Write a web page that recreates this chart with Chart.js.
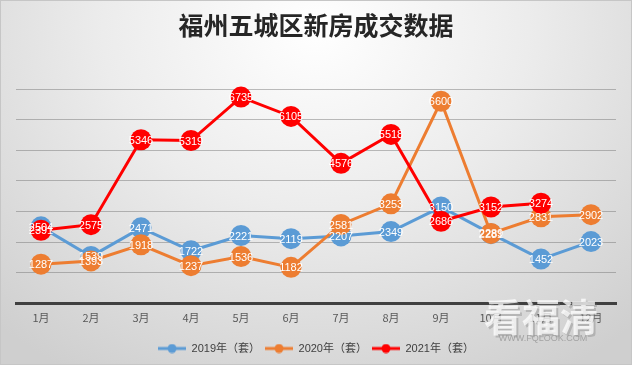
<!DOCTYPE html>
<html>
<head>
<meta charset="utf-8">
<script src="https://cdn.jsdelivr.net/npm/chart.js@4"></script>
<style>
  html, body { margin: 0; padding: 0; }
  #wrap {
    width: 632px; height: 365px; box-sizing: border-box;
    border: 1px solid #c6c6c6;
    background: radial-gradient(ellipse 75% 110% at 50% 8%, #ffffff 0%, #ececec 45%, #cfcfcf 100%);
  }
</style>
</head>
<body>
<div id="wrap"><canvas id="chartE" width="630" height="363"></canvas></div>
<script>
let months = ["1月", "2月", "3月", "4月", "5月", "6月", "7月", "8月", "9月", "10月", "11月", "12月"];

let sales2019 = [2504, 1539, 2471, 1722, 2221, 2119, 2207, 2349, 3150, 2281, 1452, 2023];
let sales2020 = [1287, 1393, 1918, 1237, 1536, 1182, 2581, 3253, 6600, 2289, 2831, 2902];
let sales2021 = [2391, 2575, 5346, 5319, 6735, 6105, 4576, 5518, 2686, 3152, 3274];

let seriesNames = ["2019年（套）", "2020年（套）", "2021年（套）"];
let seriesColors = ["#5b9bd5", "#ed7d31", "#ff0000"];

// small line + dot icon for the legend
function legendIcon(color) {
    let c = document.createElement("canvas");
    c.width = 28;
    c.height = 10;
    let g = c.getContext("2d");
    g.strokeStyle = color;
    g.lineWidth = 3;
    g.beginPath();
    g.moveTo(0, 5);
    g.lineTo(28, 5);
    g.stroke();
    g.fillStyle = color;
    g.beginPath();
    g.arc(14, 5, 4.5, 0, Math.PI * 2);
    g.fill();
    return c;
}

// white value labels on top of every point
let valueLabels = {
    id: "valueLabels",
    afterDatasetsDraw(chart) {
        let ctx = chart.ctx;
        ctx.save();
        ctx.font = "11px 'Liberation Sans'";
        ctx.fillStyle = "#ffffff";
        ctx.textAlign = "center";
        ctx.textBaseline = "middle";
        chart.data.datasets.forEach((ds, i) => {
            chart.getDatasetMeta(i).data.forEach((pt, j) => {
                ctx.fillText(ds.data[j], pt.x, pt.y + 1);
            });
        });
        ctx.restore();
    },
};

// faint site watermark, bottom right
let watermark = {
    id: "watermark",
    afterDraw(chart) {
        let ctx = chart.ctx;
        ctx.save();
        ctx.textAlign = "center";
        ctx.font = "bold 38px 'Noto Sans CJK SC'";
        ctx.fillStyle = "rgba(120,120,120,0.35)";
        ctx.fillText("看福清", 542, 318);
        ctx.fillStyle = "rgba(255,255,255,0.75)";
        ctx.fillText("看福清", 540, 316);
        ctx.font = "9px 'Liberation Sans'";
        ctx.fillStyle = "rgba(150,150,150,0.8)";
        ctx.fillText("WWW.FQLOOK.COM", 542, 338);
        ctx.restore();
    },
};

let chartData = {
    labels: months,
    datasets: [
        { label: seriesNames[0], data: sales2019, order: 2 },
        { label: seriesNames[1], data: sales2020, order: 1 },
        { label: seriesNames[2], data: sales2021, order: 0 },
    ].map((ds, i) => Object.assign(ds, {
        borderColor: seriesColors[i],
        backgroundColor: seriesColors[i],
        borderWidth: 3,
        pointRadius: 10.5,
        pointHoverRadius: 10.5,
        pointBorderWidth: 0,
        pointStyle: "circle",
        tension: 0,
        clip: false,
    })),
};

let chartOptions = {
    responsive: false,
    animation: false,
    layout: {
        padding: { left: 15, right: 15, top: 0, bottom: 0 },
    },
    scales: {
        x: {
            offset: true,
            grid: { display: false },
            border: { color: "#404040", width: 3 },
            ticks: { color: "#595959", font: { size: 11, family: "'Noto Sans CJK SC'" }, padding: 0 },
        },
        y: {
            min: 0,
            max: 7000,
            ticks: { display: false, stepSize: 1000 },
            border: { display: false },
            grid: { color: "rgba(110,110,110,0.45)", drawTicks: false },
        },
    },
    plugins: {
        title: {
            display: true,
            text: "福州五城区新房成交数据",
            color: "#262626",
            font: { size: 25, weight: "bold", family: "'Noto Sans CJK SC'" },
            padding: { top: 9, bottom: 49 },
        },
        legend: {
            position: "bottom",
            // empty title only adds a gap above the legend row
            title: { display: true, text: "", font: { size: 1 }, padding: { top: 0, bottom: 12 } },
            labels: {
                usePointStyle: true,
                pointStyleWidth: 28,
                color: "#404040",
                font: { size: 11, family: "'Liberation Sans', 'Noto Sans CJK SC'" },
                padding: 5,
                generateLabels(chart) {
                    return chart.data.datasets.map((ds, i) => ({
                        text: ds.label,
                        pointStyle: legendIcon(seriesColors[i]),
                        fontColor: "#404040",
                        strokeStyle: seriesColors[i],
                        fillStyle: seriesColors[i],
                        lineWidth: 0,
                        datasetIndex: i,
                    }));
                },
            },
        },
        tooltip: { enabled: false },
    },
};

let salesChart = new Chart(document.getElementById("chartE"), {
    type: "line",
    data: chartData,
    options: chartOptions,
    plugins: [valueLabels, watermark],
});
</script>
</body>
</html>
